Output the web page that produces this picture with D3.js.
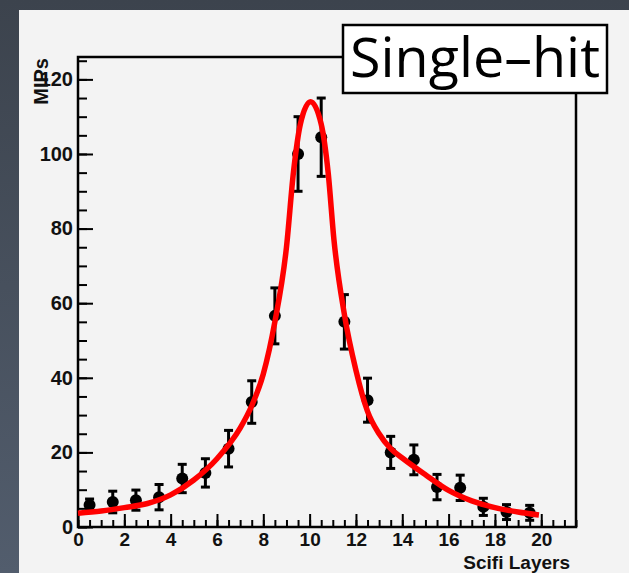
<!DOCTYPE html>
<meta charset="UTF-8">
<html lang="en">
<head><link rel="icon" href="data:,"></head>
<style>
body {
  margin: 0;
  overflow: hidden;
}
svg {
  display: block;
}
.axis text {
  font-family: "Liberation Sans", Arial, sans-serif;
  font-weight: bold;
  font-size: 20px;
  fill: #111;
}
.axis.xlab text {
  font-size: 19px;
}
.axis line {
  stroke: #000;
  stroke-width: 2;
}
</style>
<script src="https://cdnjs.cloudflare.com/ajax/libs/d3/7.8.5/d3.min.js"></script>
<body>
<svg id="view"></svg>
</body>
<script>
const W = 629, H = 573;

// measured points: layer centres, MIPs, errors
const layers = [0.5, 1.5, 2.5, 3.5, 4.5, 5.5, 6.5, 7.5, 8.5, 9.5,
                10.5, 11.5, 12.5, 13.5, 14.5, 15.5, 16.5, 17.5, 18.5, 19.5];
const mips = [5.9, 6.7, 7.2, 8.0, 13.0, 14.5, 21.0, 33.5, 56.6, 100,
              104.5, 55, 34, 20, 18, 10.7, 10.5, 5.4, 4.0, 3.8];
const errs = [1.6, 2.9, 2.7, 3.4, 3.8, 3.8, 4.9, 5.7, 7.5, 10,
              10.5, 7.3, 5.9, 4.3, 4.0, 3.4, 3.4, 2.3, 2.0, 2.0];

// fit curve
const fitX = [0, 1, 2, 3, 4, 5, 6, 7, 7.5, 8, 8.5, 9, 9.3, 9.6, 10.04,
              10.5, 10.8, 11.05, 11.5, 12, 12.5, 13, 13.5, 14, 15, 16, 17, 18, 19, 19.9];
const fitY = [3.7, 4.3, 5.2, 6.3, 8.6, 12.6, 18.3, 26.5, 32.5, 41, 55, 75, 95, 108, 114,
              108, 95, 77, 57, 42, 31, 25, 21, 18.5, 14, 9.8, 7, 5.2, 4.0, 3.2];

const xMajor = [0, 2, 4, 6, 8, 10, 12, 14, 16, 18, 20];
const yMajor = [0, 20, 40, 60, 80, 100, 120];

const svg = d3.select("#view").attr("width", W).attr("height", H);

// slide background
const grad = svg.append("defs").append("linearGradient")
    .attr("id", "bg").attr("x1", 0).attr("y1", 0).attr("x2", 0).attr("y2", 1);
grad.append("stop").attr("offset", "0%").attr("stop-color", "#3c434d");
grad.append("stop").attr("offset", "100%").attr("stop-color", "#525d6d");
svg.append("rect").attr("width", W).attr("height", H).attr("fill", "url(#bg)");
svg.append("rect").attr("x", 19).attr("y", 10).attr("width", W - 19).attr("height", H - 10)
    .attr("fill", "#f3f3f3");

const frame = { left: 78, right: 576, top: 57, bottom: 527 };

const x = d3.scaleLinear().domain([0, 21.5]).range([frame.left, frame.right]);
const y = d3.scaleLinear().domain([0, 126]).range([frame.bottom, frame.top]);

// minor ticks
svg.append("g").attr("class", "axis")
    .attr("transform", `translate(0,${frame.bottom})`)
    .call(d3.axisBottom(x).tickValues(d3.range(0, 21.51, 0.5)).tickSize(-7).tickFormat(""))
    .call(g => g.select(".domain").remove());
svg.append("g").attr("class", "axis")
    .attr("transform", `translate(${frame.left},0)`)
    .call(d3.axisLeft(y).tickValues(d3.range(0, 126, 5)).tickSize(-9).tickFormat(""))
    .call(g => g.select(".domain").remove());

// major ticks + labels
svg.append("g").attr("class", "axis xlab")
    .attr("transform", `translate(0,${frame.bottom})`)
    .call(d3.axisBottom(x).tickValues(xMajor).tickSize(-13).tickPadding(6).tickFormat(d3.format("d")))
    .call(g => g.select(".domain").remove());
svg.append("g").attr("class", "axis")
    .attr("transform", `translate(${frame.left},0)`)
    .call(d3.axisLeft(y).tickValues(yMajor).tickSize(-15).tickPadding(5).tickFormat(d3.format("d")))
    .call(g => g.select(".domain").remove());

// frame box
svg.append("rect")
    .attr("x", frame.left).attr("y", frame.top)
    .attr("width", frame.right - frame.left).attr("height", frame.bottom - frame.top)
    .attr("fill", "none").attr("stroke", "#000").attr("stroke-width", 2.5);

// axis titles
svg.append("text")
    .attr("transform", `translate(48,${frame.top + 1}) rotate(-90)`)
    .attr("text-anchor", "end")
    .style("font-family", "'Liberation Sans', Arial, sans-serif")
    .style("font-weight", "bold").style("font-size", "20px").attr("fill", "#111")
    .text("MIPs");
svg.append("text")
    .attr("x", 570).attr("y", 569).attr("text-anchor", "end")
    .style("font-family", "'Liberation Sans', Arial, sans-serif")
    .style("font-weight", "bold").style("font-size", "19px").attr("fill", "#111")
    .text("Scifi Layers");

// data points with error bars
const pts = svg.append("g").attr("id", "points");
const capW = 4.5;
layers.forEach((lx, i) => {
    const px = x(lx);
    const lo = y(mips[i] - errs[i]), hi = y(mips[i] + errs[i]);
    pts.append("line").attr("x1", px).attr("x2", px).attr("y1", lo).attr("y2", hi)
        .attr("stroke", "#000").attr("stroke-width", 3);
    [lo, hi].forEach(cy => pts.append("line")
        .attr("x1", px - capW).attr("x2", px + capW).attr("y1", cy).attr("y2", cy)
        .attr("stroke", "#000").attr("stroke-width", 3));
    pts.append("circle").attr("cx", px).attr("cy", y(mips[i])).attr("r", 6).attr("fill", "#000");
});

// fit
const fitLine = d3.line().x(d => x(d[0])).y(d => y(d[1])).curve(d3.curveMonotoneX);
svg.append("path")
    .datum(fitX.map((v, i) => [v, fitY[i]]))
    .attr("d", fitLine)
    .attr("fill", "none").attr("stroke", "#ff0000").attr("stroke-width", 5.5)
    .attr("stroke-linejoin", "round");

// label box
svg.append("rect").attr("x", 343).attr("y", 25).attr("width", 264).attr("height", 68)
    .attr("fill", "#fff").attr("stroke", "#000").attr("stroke-width", 2.5);
const lab = svg.append("text")
    .attr("x", 475).attr("y", 77).attr("text-anchor", "middle")
    .style("font-family", "'Open Sans', 'Noto Sans', sans-serif").style("font-size", "50px")
    .attr("fill", "#000")
    .text("Single–hit");
const tw = lab.node().getComputedTextLength();
lab.style("font-size", `${50 * 250 / tw}px`);
</script>
</html>
